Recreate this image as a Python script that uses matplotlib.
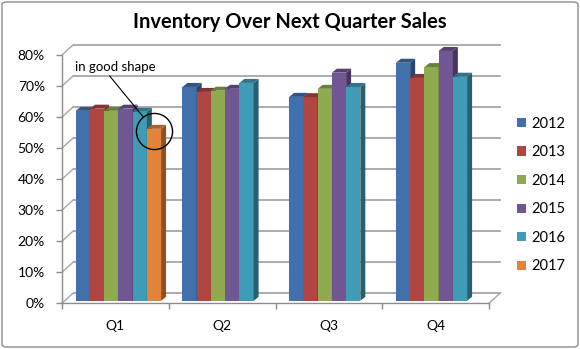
import matplotlib
matplotlib.use('Agg')
import matplotlib.pyplot as plt
from matplotlib.patches import Polygon, FancyBboxPatch
import numpy as np

plt.rcParams['font.family'] = ['Lato', 'DejaVu Sans']

# dados (% do estoque sobre vendas do proximo trimestre)
trimestres = ['Q1', 'Q2', 'Q3', 'Q4']
anos = ['2012', '2013', '2014', '2015', '2016', '2017']
v2012 = [61.2, 68.9, 65.7, 76.7]
v2013 = [61.9, 67.3, 65.6, 71.8]
v2014 = [61.2, 67.7, 68.3, 75.3]
v2015 = [61.9, 68.3, 73.5, 80.5]
v2016 = [60.9, 70.2, 68.9, 72.2]
v2017 = [55.4, np.nan, np.nan, np.nan]
series = [v2012, v2013, v2014, v2015, v2016, v2017]
cores = ['#4170ac', '#b04542', '#8faa4f', '#715694', '#3f9bb6', '#e3843a']
yticks = [0, 10, 20, 30, 40, 50, 60, 70, 80]

W, H = 580, 349
fig = plt.figure(figsize=(W / 100, H / 100), dpi=100)

# plano frontal do grafico em pixels
esq, dir_, base, topo = 62, 489, 303.3, 55
ax = fig.add_axes([esq / W, 1 - base / H, (dir_ - esq) / W, (base - topo) / H])
ax.set_xlim(0, 4)
ax.set_ylim(0, 80)
px_x = (dir_ - esq) / 4
px_y = (base - topo) / 80

# deslocamentos 3D (pixels -> unidades de dados)
bx, by = 11.5 / px_x, 10.5 / px_y      # parede de fundo
ox, oy = 3 / px_x, 2.5 / px_y          # face frontal das barras
dx, dy = 5 / px_x, 4 / px_y            # profundidade das barras

cinza = '#a6a6a6'

# parede de fundo + chao
for v in yticks:
    ax.plot([bx, 4 + bx], [v + by, v + by], color=cinza, lw=1.3, clip_on=False, zorder=1)
    ax.plot([0, bx], [v, v + by], color=cinza, lw=1.0, clip_on=False, zorder=1)
ax.plot([4, 4 + bx], [0, by], color=cinza, lw=1.0, clip_on=False, zorder=1)


def escurecer(c, f):
    r, g, b = matplotlib.colors.to_rgb(c)
    return (r * f, g * f, b * f)


gap = 1.5
w = 1 / (len(anos) + gap)
inicio = gap * w / 2
x = np.arange(len(trimestres))

handles = []
for i, (nome, vals, cor) in enumerate(zip(anos, series, cores)):
    vals = np.array(vals, dtype=float)
    ok = ~np.isnan(vals)
    xs = x[ok] + inicio + i * w + ox
    bars = ax.bar(xs, vals[ok], width=w, bottom=oy, align='edge', color=cor,
                  label=nome, zorder=3, clip_on=False)
    handles.append(bars)
    for x0, h in zip(xs, vals[ok]):
        y1 = oy + h
        lado = Polygon([(x0 + w, oy), (x0 + w + dx, oy + dy), (x0 + w + dx, y1 + dy), (x0 + w, y1)],
                       closed=True, facecolor=escurecer(cor, 0.62), edgecolor='none',
                       zorder=3, clip_on=False)
        tampa = Polygon([(x0, y1), (x0 + w, y1), (x0 + w + dx, y1 + dy), (x0 + dx, y1 + dy)],
                        closed=True, facecolor=escurecer(cor, 0.75), edgecolor='none',
                        zorder=3, clip_on=False)
        ax.add_patch(lado)
        ax.add_patch(tampa)

# eixos
for s in ['top', 'right']:
    ax.spines[s].set_visible(False)
for s in ['left', 'bottom']:
    ax.spines[s].set_color('#8c8c8c')
    ax.spines[s].set_linewidth(1.0)
ax.set_yticks(yticks)
ax.yaxis.set_major_formatter(lambda v, p: f'{v:.0f}%')
ax.tick_params(axis='y', length=4.3, width=1, color='#8c8c8c', pad=8, labelsize=10)
ax.set_xticks(np.arange(5))
ax.set_xticklabels([])
ax.set_xticks(x + 0.5, minor=True)
ax.set_xticklabels(trimestres, minor=True)
ax.tick_params(axis='x', which='major', length=4.3, width=1, color='#8c8c8c')
ax.tick_params(axis='x', which='minor', length=0, pad=12, labelsize=10)
ax.patch.set_visible(False)

# anotacao
x_lar = x[0] + inicio + 5 * w + ox + w / 2
ax.plot([x_lar + 0.005], [v2017[0] + oy - 0.6], marker='o', markersize=26,
        mfc='none', mec='black', mew=1.0, zorder=5, clip_on=False)
ax.annotate('in good shape', xy=(x_lar + 0.005, v2017[0] + oy - 0.6),
            xytext=(13 / px_x, (base - 67) / px_y), ha='left', va='center', fontsize=9.5,
            arrowprops=dict(arrowstyle='-', color='black', lw=0.8, shrinkA=0, shrinkB=13,
                            relpos=(0.4, 0)),
            zorder=5, annotation_clip=False)

fig.text(0.5, 1 - 22 / H, 'Inventory Over Next Quarter Sales', ha='center', va='center',
         fontsize=14.5, fontweight='bold')

fig.legend(handles=handles, loc='center left', bbox_to_anchor=(504 / W, 1 - 195 / H),
           frameon=False, fontsize=10.5, handlelength=0.6, handleheight=0.6,
           handletextpad=0.4, labelspacing=1.0)

# borda do grafico
borda = FancyBboxPatch((2 / W, 2 / H), 1 - 4 / W, 1 - 4 / H, boxstyle='round,pad=0,rounding_size=0.008',
                       transform=fig.transFigure, facecolor='none', edgecolor='#8c8c8c', lw=1.0)
fig.patches.append(borda)

fig.savefig('out.png', dpi=100)
